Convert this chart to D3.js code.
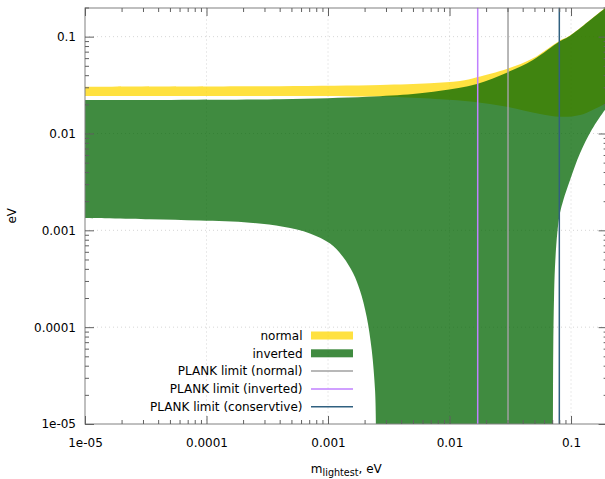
<!DOCTYPE html>
<html>
<head>
<meta charset="utf-8">
<script src="https://cdn.jsdelivr.net/npm/d3@7"></script>
<style>
  body { margin: 0; background: #fff; }
  svg { display: block; font-family: "DejaVu Sans", sans-serif; }
</style>
</head>
<body>
<svg width="605" height="479"></svg>
<script>
// band edges, [m_lightest, eV]
var normalUpper = [[1e-5, 0.0304], [4e-4, 0.0308], [2.7e-3, 0.0317], [6.9e-3, 0.0330], [1.22e-2, 0.0348],
    [1.68e-2, 0.0381], [2.96e-2, 0.0464], [4.86e-2, 0.0598], [8.1e-2, 0.0915], [9.5e-2, 0.1005],
    [1.83e-1, 0.190], [2.0e-1, 0.206]];
var normalLower = [[1e-5, 0.0244], [4e-4, 0.0244], [2.1e-3, 0.0241], [3.7e-3, 0.0238], [8.4e-3, 0.02256],
    [1.56e-2, 0.0213], [2.96e-2, 0.0189], [5.56e-2, 0.0159], [8.1e-2, 0.0149], [1.19e-1, 0.0155],
    [1.83e-1, 0.0197], [2.0e-1, 0.0207]];
var invertedUpper = [[1e-5, 0.0222], [4e-4, 0.0226], [2.1e-3, 0.0240], [5.0e-3, 0.0256], [8.4e-3, 0.0277],
    [1.68e-2, 0.0325], [2.96e-2, 0.0425], [4.86e-2, 0.0574], [8.1e-2, 0.0895], [9.5e-2, 0.0995],
    [1.83e-1, 0.189], [2.0e-1, 0.205]];
var invertedLowerLeft = [[1e-5, 0.00134], [3.4e-5, 0.0013], [8.8e-5, 0.00126], [2.28e-4, 0.0012],
    [4.27e-4, 0.00109], [7.1e-4, 0.00093], [1.04e-3, 0.00073], [1.33e-3, 0.00053], [1.61e-3, 0.00036],
    [1.83e-3, 0.00024], [2.08e-3, 0.000128], [2.29e-3, 5.8e-5], [2.44e-3, 2.2e-5], [2.48e-3, 1e-5]];
var invertedLowerRight = [[7.11e-2, 1e-5], [7.14e-2, 5.8e-5], [7.24e-2, 1.9e-4], [7.38e-2, 4.2e-4],
    [7.71e-2, 9.4e-4], [8.11e-2, 1.51e-3], [8.65e-2, 2.06e-3], [9.82e-2, 3.31e-3], [1.186e-1, 6.24e-3],
    [1.48e-1, 1.09e-2], [1.9e-1, 1.75e-2], [2.0e-1, 1.88e-2]];

var limitNames = ["PLANK limit (normal)", "PLANK limit (inverted)", "PLANK limit (conservtive)"];
var limitValues = [0.0303, 0.01706, 0.0801];
var limitColors = ["#a0a0a0", "#c080ff", "#306080"];

var majorTicks = [1e-5, 1e-4, 1e-3, 1e-2, 1e-1];
var majorLabels = ["1e-05", "0.0001", "0.001", "0.01", "0.1"];

var gold = "#ffd700", darkGreen = "#006400", bandOpacity = 0.75;

var pLeft = 85, pRight = 607.6, pTop = 7.5, pBottom = 424;

var x = d3.scaleLog().domain([1e-5, 0.2]).range([pLeft, pRight]);
var y = d3.scaleLog().domain([1e-5, 0.2]).range([pBottom, pTop]);

var minorTicks = [];
majorTicks.forEach(function(d) {
    for (var k = 2; k <= 9; k++) {
        if (k * d <= 0.2 + 1e-9) minorTicks.push(k * d);
    }
});

var svg = d3.select("svg");

svg.append("clipPath").attr("id", "plot")
    .append("rect")
    .attr("x", pLeft).attr("y", pTop)
    .attr("width", pRight - pLeft).attr("height", pBottom - pTop);

// grid
var grid = svg.append("g").attr("stroke", "#c4c4c4").attr("stroke-width", 0.7)
    .attr("stroke-dasharray", "1,3");
grid.selectAll(".gx").data(majorTicks.slice(1)).enter().append("line")
    .attr("x1", function(d) { return x(d); }).attr("x2", function(d) { return x(d); })
    .attr("y1", pTop).attr("y2", pBottom);
grid.selectAll(".gy").data(majorTicks.slice(1)).enter().append("line")
    .attr("y1", function(d) { return y(d); }).attr("y2", function(d) { return y(d); })
    .attr("x1", pLeft).attr("x2", pRight);

var line = d3.line()
    .x(function(d) { return x(d[0]); })
    .y(function(d) { return y(d[1]); })
    .curve(d3.curveCatmullRom.alpha(0.5));

function band(upper, lowers) {
    var p = line(upper);
    lowers.forEach(function(part) {
        p += line(part.slice().reverse()).replace(/^M/, "L");
    });
    return p + "Z";
}

var bands = svg.append("g").attr("clip-path", "url(#plot)");
bands.append("path")
    .attr("d", band(normalUpper, [normalLower]))
    .attr("fill", gold).attr("fill-opacity", bandOpacity);
bands.append("path")
    .attr("d", band(invertedUpper, [invertedLowerRight, invertedLowerLeft]))
    .attr("fill", darkGreen).attr("fill-opacity", bandOpacity);

bands.selectAll(".limit").data(limitValues).enter().append("line")
    .attr("x1", function(d) { return x(d); }).attr("x2", function(d) { return x(d); })
    .attr("y1", pTop).attr("y2", pBottom)
    .attr("stroke", function(d, i) { return limitColors[i]; })
    .attr("stroke-width", 1.5);

// border
svg.append("rect")
    .attr("x", pLeft).attr("y", Math.round(pTop))
    .attr("width", pRight - pLeft).attr("height", pBottom - Math.round(pTop))
    .attr("fill", "none").attr("stroke", "#808080").attr("stroke-width", 1);

function fmt(d) {
    var i = majorTicks.indexOf(d);
    return i < 0 ? "" : majorLabels[i];
}

function styleAxis(g) {
    g.select(".domain").remove();
    g.selectAll(".tick line").attr("stroke", "#606060").attr("stroke-width", 1);
    g.selectAll("text").attr("fill", "#000");
    g.attr("font-family", "DejaVu Sans, sans-serif").attr("font-size", 12);
}

svg.append("g").attr("transform", "translate(0," + pBottom + ")")
    .call(d3.axisBottom(x).tickValues(majorTicks).tickSize(-8).tickPadding(14.5).tickFormat(fmt))
    .call(styleAxis);
svg.append("g").attr("transform", "translate(0," + pBottom + ")")
    .call(d3.axisBottom(x).tickValues(minorTicks).tickSize(-4).tickFormat(""))
    .call(styleAxis);
svg.append("g").attr("transform", "translate(0," + Math.round(pTop) + ")")
    .call(d3.axisTop(x).tickValues(majorTicks).tickSize(-8).tickFormat(""))
    .call(styleAxis);
svg.append("g").attr("transform", "translate(0," + Math.round(pTop) + ")")
    .call(d3.axisTop(x).tickValues(minorTicks).tickSize(-4).tickFormat(""))
    .call(styleAxis);

svg.append("g").attr("transform", "translate(" + pLeft + ",0)")
    .call(d3.axisLeft(y).tickValues(majorTicks).tickSize(-9).tickPadding(9).tickFormat(fmt))
    .call(styleAxis);
svg.append("g").attr("transform", "translate(" + pLeft + ",0)")
    .call(d3.axisLeft(y).tickValues(minorTicks).tickSize(-4).tickFormat(""))
    .call(styleAxis);
svg.append("g").attr("transform", "translate(" + pRight + ",0)")
    .call(d3.axisRight(y).tickValues(majorTicks).tickSize(-9).tickFormat(""))
    .call(styleAxis);
svg.append("g").attr("transform", "translate(" + pRight + ",0)")
    .call(d3.axisRight(y).tickValues(minorTicks).tickSize(-4).tickFormat(""))
    .call(styleAxis);

// axis titles
var xt = svg.append("text")
    .attr("x", (pLeft + pRight) / 2).attr("y", 473)
    .attr("text-anchor", "middle").attr("font-size", 12).attr("fill", "#000");
xt.append("tspan").text("m");
xt.append("tspan").attr("font-size", 9.6).attr("dy", 3).text("lightest");
xt.append("tspan").attr("dy", -3).text(", eV");

svg.append("text")
    .attr("transform", "translate(16," + (pTop + pBottom) / 2 + ") rotate(-90)")
    .attr("text-anchor", "middle").attr("font-size", 12).attr("fill", "#000")
    .text("eV");

// legend
var legendNames = ["normal", "inverted"].concat(limitNames);
var legend = svg.append("g").attr("font-size", 12);
legendNames.forEach(function(name, i) {
    var cy = 335.5 + i * 17.8;
    legend.append("text")
        .attr("x", 302.5).attr("y", cy).attr("dy", "0.36em")
        .attr("text-anchor", "end").attr("fill", "#000")
        .text(name);
    if (i < 2) {
        legend.append("rect")
            .attr("x", 311).attr("y", cy - 4).attr("width", 42).attr("height", 8)
            .attr("fill", i === 0 ? gold : darkGreen).attr("fill-opacity", bandOpacity);
    } else {
        legend.append("line")
            .attr("x1", 311).attr("x2", 353).attr("y1", cy).attr("y2", cy)
            .attr("stroke", limitColors[i - 2]).attr("stroke-width", 1.5);
    }
});
</script>
</body>
</html>
